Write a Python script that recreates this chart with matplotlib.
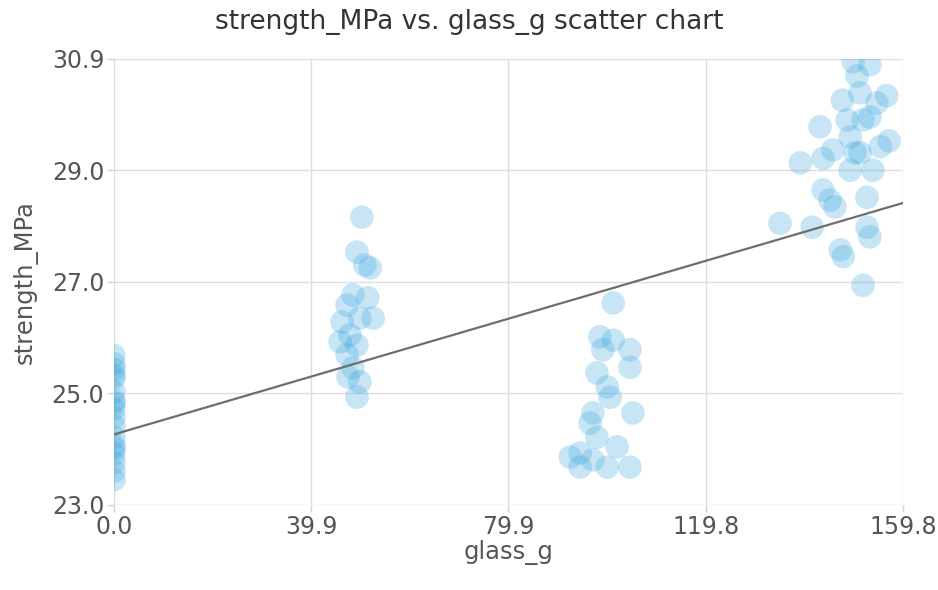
import numpy as np
import matplotlib
matplotlib.use("Agg")
from matplotlib import pyplot as plt

# glass_g / strength_MPa, one list per group
x1 = [0.0] * 18
y1 = [25.65, 25.5, 25.4, 25.3, 25.25, 25.0, 24.85, 24.8, 24.7,
      24.55, 24.4, 24.2, 24.05, 24.0, 23.9, 23.75, 23.6, 23.45]

x2 = [50.2, 49.2, 50.8, 51.9, 48.4, 51.4, 47.2, 49.8, 46.2,
      52.5, 47.8, 45.8, 49.2, 47.2, 48.4, 47.4, 49.8, 49.2]
y2 = [28.10, 27.48, 27.25, 27.20, 26.72, 26.67, 26.54, 26.31, 26.24,
      26.31, 26.01, 25.89, 25.83, 25.66, 25.43, 25.27, 25.18, 24.91]

x3 = [101.1, 98.4, 101.1, 104.5, 99.0, 104.5, 97.8, 99.9, 100.5, 105.1,
      97.0, 96.4, 97.8, 94.4, 101.9, 92.4, 97.0, 99.9, 104.5, 94.4]
y3 = [26.58, 25.98, 25.92, 25.75, 25.75, 25.44, 25.34, 25.09, 24.91, 24.63,
      24.63, 24.45, 24.20, 23.92, 24.03, 23.85, 23.80, 23.67, 23.67, 23.67]

x4 = [149.7, 153.1, 150.5, 151.1, 154.5, 147.5, 143.0, 148.5, 153.1, 149.1,
      155.2, 145.6, 150.1, 139.0, 143.6, 149.1, 153.7, 143.6, 145.0, 152.5,
      146.0, 134.9, 141.4, 152.5, 153.1, 147.1, 147.7, 151.7, 156.5, 157.0,
      151.7, 151.1]
y4 = [30.85, 30.80, 30.60, 30.30, 30.12, 30.17, 29.70, 29.82, 29.87, 29.52,
      29.35, 29.29, 29.24, 29.06, 29.14, 28.93, 28.93, 28.58, 28.40, 28.45,
      28.28, 27.99, 27.92, 27.92, 27.75, 27.52, 27.40, 26.89, 30.25, 29.45,
      29.82, 29.24]

# trend line ends
trend_y = [24.25, 28.35]

x_ticks = [0.0, 39.95, 79.9, 119.85, 159.8]
x_labels = ["0.0", "39.9", "79.9", "119.8", "159.8"]
y_ticks = [23.0, 24.975, 26.95, 28.925, 30.9]
y_labels = ["23.0", "25.0", "27.0", "29.0", "30.9"]

x = np.array(x1 + x2 + x3 + x4)
y = np.array(y1 + y2 + y3 + y4)

fig = plt.figure(figsize=(9.38, 5.9), dpi=100)
ax = fig.add_axes([0.1215, 0.1441, 0.8412, 0.7559])

sc = ax.scatter(x, y, s=290, color="#3aa5de", alpha=0.28, edgecolors="none", zorder=3)
sc.set_clip_path(ax.patch)

ax.plot([x_ticks[0], x_ticks[-1]], trend_y, color="#6e6e6e", lw=1.6, zorder=4)

ax.set_xlim(x_ticks[0], x_ticks[-1])
ax.set_ylim(y_ticks[0], y_ticks[-1])
ax.set_xticks(x_ticks)
ax.set_xticklabels(x_labels)
ax.set_yticks(y_ticks)
ax.set_yticklabels(y_labels)
ax.grid(True, color="#dedede", lw=1, zorder=0)
for s in ax.spines.values():
    s.set_visible(False)
ax.tick_params(colors="#d0d0d0", labelcolor="#555555", labelsize=17, length=5, width=1, pad=2)

ax.set_xlabel("glass_g", fontsize=17.5, color="#555555", labelpad=1)
ax.set_ylabel("strength_MPa", fontsize=17.5, color="#555555", labelpad=10)
fig.suptitle("strength_MPa vs. glass_g scatter chart", x=0.5, y=0.963, va="center",
             fontsize=19, color="#333333")

fig.savefig("out.png", dpi=100)
